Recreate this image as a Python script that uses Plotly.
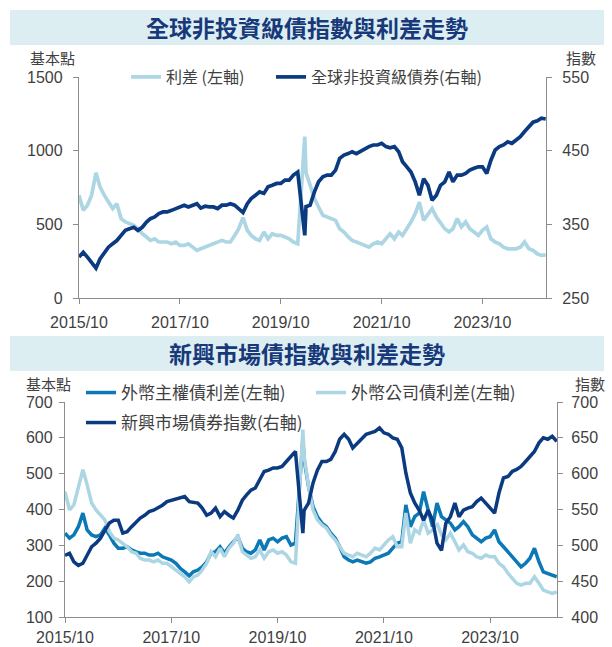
import pandas as pd
import plotly.graph_objects as go

W, H = 612, 647

# ---------------- data ----------------
dates = pd.date_range("2015-10-01", "2025-01-01", freq="MS")
dates = [d.strftime("%Y-%m-%d") for d in dates]
dates[53] = "2020-03-23"  # COVID shock reading

# Top chart: global high-yield spread (bp, left) and index (right)
hy_spread = [698, 595, 630, 700, 850, 755, 698, 652, 607, 640, 539, 516,
             505, 493, 470, 436, 414, 391, 402, 380, 380, 380, 368, 380,
             357, 357, 368, 345, 323, 334, 345, 357, 368, 380, 391, 380,
             380, 425, 470, 545, 459, 425, 402, 391, 448, 402, 436, 425,
             425, 414, 402, 380, 368, 1095, 850, 766, 675, 618, 561, 550,
             539, 527, 470, 448, 414, 391, 380, 368, 357, 345, 368, 380,
             368, 402, 436, 402, 448, 425, 470, 516, 573, 650, 527, 573,
             607, 550, 505, 470, 448, 470, 539, 482, 516, 470, 448, 425,
             459, 482, 402, 380, 368, 345, 334, 334, 334, 345, 380, 334,
             323, 300, 289, 293]
hy_index = [305.5, 312, 305.5, 298.6, 290.5, 303, 312, 319, 323.6, 328, 335, 341.8,
            344, 346, 341.8, 346, 353, 357.7, 360, 364.5, 366.8, 366.8, 369, 371.4,
            373.6, 376, 373.6, 376, 378, 372, 374.5, 373.6, 373.6, 371.4, 376, 376,
            378, 376, 371.4, 366, 378, 385, 389.5, 394, 392, 401, 403, 405.5,
            405.5, 410, 410, 416.8, 421, 335, 374, 376, 394, 407.7, 414.5, 416.8,
            416.8, 423.6, 439.5, 444, 446, 448.6, 446, 449.5, 452, 455.5, 457.7, 457.7,
            460, 455.5, 454, 455.5, 448.6, 435, 428, 421, 407.7, 389.5, 412, 403,
            382.7, 389.5, 403, 407.7, 421, 407.7, 416.8, 416.8, 419, 423.6, 426, 428,
            428, 419, 437, 451, 455.5, 457.7, 462, 460, 464.5, 469, 476, 482.7,
            488.6, 490.5, 494, 493]

# Bottom chart: EM sovereign / corporate spreads (bp, left) and EM index (right)
em_sov = [334, 320, 329, 352, 390, 343, 329, 324, 329, 348, 329, 306,
          292, 292, 296, 287, 282, 278, 278, 273, 273, 278, 268, 264,
          259, 250, 236, 226, 215, 226, 231, 240, 254, 278, 282, 296,
          278, 296, 310, 324, 292, 282, 278, 287, 315, 287, 315, 320,
          310, 320, 324, 301, 306, 595, 539, 464, 408, 380, 362, 352,
          334, 320, 296, 268, 259, 254, 259, 254, 250, 254, 264, 268,
          273, 278, 292, 306, 310, 413, 352, 380, 390, 450, 399, 352,
          418, 380, 371, 362, 343, 352, 366, 352, 329, 320, 310, 320,
          324, 343, 310, 296, 282, 268, 254, 240, 250, 264, 292, 254,
          226, 222, 217, 212]
em_corp = [450, 399, 413, 464, 511, 469, 418, 399, 385, 371, 338, 320,
           315, 306, 296, 282, 278, 264, 259, 259, 254, 259, 250, 250,
           240, 231, 222, 212, 198, 212, 217, 231, 250, 282, 268, 292,
           268, 292, 306, 329, 282, 273, 264, 268, 287, 264, 282, 287,
           278, 282, 273, 254, 250, 623, 549, 464, 399, 371, 357, 348,
           329, 315, 296, 278, 273, 268, 278, 273, 268, 278, 292, 287,
           301, 315, 324, 296, 296, 390, 306, 343, 334, 371, 334, 343,
           362, 329, 315, 334, 310, 287, 301, 282, 278, 268, 264, 273,
           268, 268, 250, 240, 222, 208, 194, 189, 194, 194, 212, 194,
           175, 170, 166, 170]
em_index = [486, 489, 477, 472, 475, 486, 498, 503, 510, 521, 531, 535,
            535, 517, 519, 526, 533, 538, 542, 547, 549, 552, 556, 561,
            563, 564, 566, 568, 561, 560, 559, 552, 542, 545, 552, 540,
            547, 542, 538, 549, 563, 570, 577, 580, 591, 603, 605, 608,
            608, 610, 617, 624, 631, 517, 549, 559, 587, 605, 617, 617,
            620, 631, 648, 655, 648, 636, 643, 648, 655, 657, 659, 664,
            657, 655, 650, 648, 636, 601, 573, 559, 549, 535, 549, 535,
            503, 493, 531, 540, 559, 540, 549, 552, 554, 561, 566, 559,
            552, 545, 573, 594, 596, 603, 606, 610, 617, 624, 631, 643,
            650, 648, 652, 645]

x_tickvals = ["2015-10-01", "2017-10-01", "2019-10-01", "2021-10-01", "2023-10-01"]
x_ticktext = ["2015/10", "2017/10", "2019/10", "2021/10", "2023/10"]

title_top = "全球非投資級債指數與利差走勢"
title_bottom = "新興市場債指數與利差走勢"

# ---------------- style ----------------
C_LIGHT = "#ADD6E4"
C_MID = "#0A79B5"
C_DARK = "#0B3A80"
C_TEXT = "#3F3F3F"
C_AXIS = "#8C8C8C"
C_TITLE = "#17397A"
C_BAR = "#DDEEF3"
NUM_FONT = "Liberation Sans, Arial, sans-serif"
CJK_FONT = "Noto Sans CJK TC, Noto Sans CJK SC, sans-serif"


def px(x):
    return x / W


def py(y):
    return 1 - y / H


fig = go.Figure()

fig.add_trace(go.Scatter(x=dates, y=hy_spread, name="利差 (左軸)", mode="lines",
                         line=dict(color=C_LIGHT, width=3.7), xaxis="x", yaxis="y",
                         legend="legend"))
fig.add_trace(go.Scatter(x=dates, y=hy_index, name="全球非投資級債券(右軸)", mode="lines",
                         line=dict(color=C_DARK, width=3.7), xaxis="x", yaxis="y2",
                         legend="legend2"))
fig.add_trace(go.Scatter(x=dates, y=em_sov, name="外幣主權債利差(左軸)", mode="lines",
                         line=dict(color=C_MID, width=3.5), xaxis="x2", yaxis="y3",
                         legend="legend3"))
fig.add_trace(go.Scatter(x=dates, y=em_corp, name="外幣公司債利差(左軸)", mode="lines",
                         line=dict(color=C_LIGHT, width=3.5), xaxis="x2", yaxis="y3",
                         legend="legend4"))
fig.add_trace(go.Scatter(x=dates, y=em_index, name="新興市場債券指數(右軸)", mode="lines",
                         line=dict(color=C_DARK, width=3.5), xaxis="x2", yaxis="y4",
                         legend="legend5"))


def axis_style(standoff):
    return dict(showline=True, linecolor=C_AXIS, linewidth=1.3, ticks="outside",
                ticklen=5, tickcolor=C_AXIS, showgrid=False, zeroline=False,
                automargin=False, ticklabelstandoff=standoff,
                tickfont=dict(family=NUM_FONT, size=16, color=C_TEXT))


xr = ["2015-10-01", "2025-01-03"]
fig.update_layout(
    width=W, height=H, autosize=False,
    margin=dict(l=0, r=0, t=0, b=0, autoexpand=False),
    paper_bgcolor="white", plot_bgcolor="white",
    xaxis=dict(domain=[px(79), px(546)], range=xr, anchor="y",
               tickvals=x_tickvals, ticktext=x_ticktext, **axis_style(5)),
    yaxis=dict(domain=[py(298), py(77)], range=[0, 1500], tick0=0, dtick=500, anchor="x",
               **axis_style(7)),
    yaxis2=dict(domain=[py(298), py(77)], range=[250, 550], tick0=250, dtick=100, anchor="x",
                overlaying="y", side="right", **axis_style(7)),
    xaxis2=dict(domain=[px(65), px(557)], range=xr, anchor="y3",
                tickvals=x_tickvals, ticktext=x_ticktext, **axis_style(1)),
    yaxis3=dict(domain=[py(617), py(402)], range=[100, 700], tick0=100, dtick=100, anchor="x2",
                **axis_style(3)),
    yaxis4=dict(domain=[py(617), py(402)], range=[400, 700], tick0=400, dtick=50, anchor="x2",
                overlaying="y3", side="right", **axis_style(5)),
    showlegend=True,
)

leg_common = dict(orientation="h", xanchor="left", yanchor="middle",
                  bgcolor="rgba(0,0,0,0)", borderwidth=0, itemwidth=30,
                  font=dict(family=CJK_FONT, size=16, color=C_TEXT))
leg_common17 = dict(leg_common, font=dict(family=CJK_FONT, size=17, color=C_TEXT))
fig.update_layout(
    legend=dict(x=px(126), y=py(77), **leg_common),
    legend2=dict(x=px(271), y=py(77), **leg_common),
    legend3=dict(x=px(81), y=py(393), **leg_common17),
    legend4=dict(x=px(311), y=py(393), **leg_common17),
    legend5=dict(x=px(81), y=py(423), **leg_common17),
)

# title bars
for y0, y1 in [(10, 45), (336, 371)]:
    fig.add_shape(type="rect", xref="paper", yref="paper", x0=px(10), x1=px(604),
                  y0=py(y1), y1=py(y0), fillcolor=C_BAR, line=dict(width=0), layer="below")

ann = [
    dict(text="<b>" + title_top + "</b>", x=px(307), y=py(27), size=23, color=C_TITLE),
    dict(text="<b>" + title_bottom + "</b>", x=px(307), y=py(353), size=23, color=C_TITLE),
    dict(text="基本點", x=px(52), y=py(57), size=15, color=C_TEXT),
    dict(text="指數", x=px(581), y=py(57), size=15, color=C_TEXT),
    dict(text="基本點", x=px(48), y=py(383), size=15, color=C_TEXT),
    dict(text="指數", x=px(590), y=py(383), size=15, color=C_TEXT),
]
for a in ann:
    fig.add_annotation(text=a["text"], x=a["x"], y=a["y"], xref="paper", yref="paper",
                       xanchor="center", yanchor="middle", showarrow=False,
                       font=dict(family=CJK_FONT, size=a["size"], color=a["color"]))

fig.write_html("out.html", config={"displayModeBar": False},
               post_script="document.body.style.margin='0';")
